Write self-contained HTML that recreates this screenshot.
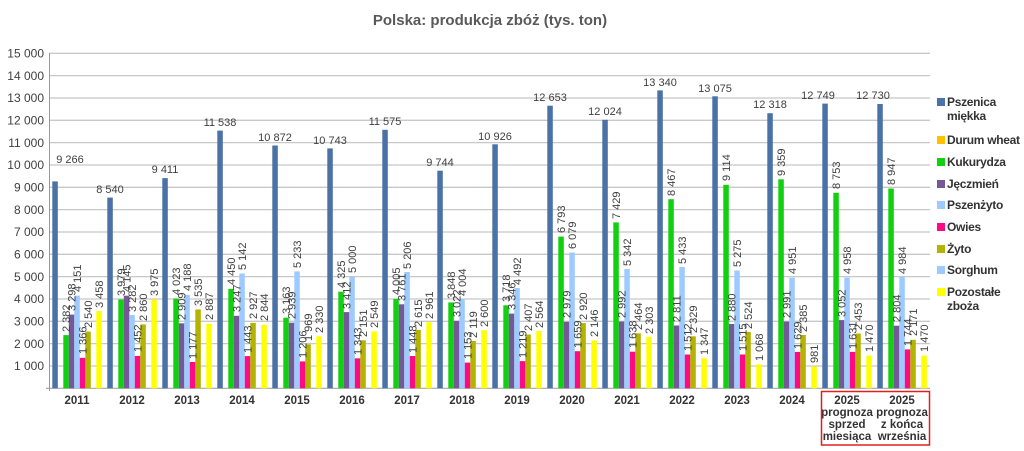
<!DOCTYPE html>
<html><head><meta charset="utf-8"><style>
body{margin:0;background:#fff}
svg{display:block;font-family:"Liberation Sans",sans-serif}
.v{font-size:11px;fill:#404040}
.yl{font-size:12px;fill:#404040;text-anchor:end}
.xl{font-size:11.5px;font-weight:bold;fill:#333;text-anchor:middle}
.lg{font-size:12px;font-weight:bold;fill:#333;letter-spacing:-0.3px}
.b{fill:#4a72a6}.g{fill:#10d010}.p{fill:#745898}.l{fill:#9ecbff}.o{fill:#ff0a84}.z{fill:#b4b400}.y{fill:#ffff00}
</style></head><body>
<svg width="1024" height="451" viewBox="0 0 1024 451">
<text x="490" y="25" text-anchor="middle" font-size="15" font-weight="bold" fill="#595959">Polska: produkcja zbóż (tys. ton)</text>
<g stroke="#c8c8c8" stroke-width="1.3">
<line x1="49.5" x2="930" y1="53.3" y2="53.3"/><line x1="49.5" x2="930" y1="75.6" y2="75.6"/><line x1="49.5" x2="930" y1="98" y2="98"/><line x1="49.5" x2="930" y1="120.3" y2="120.3"/><line x1="49.5" x2="930" y1="142.6" y2="142.6"/><line x1="49.5" x2="930" y1="165" y2="165"/><line x1="49.5" x2="930" y1="187.3" y2="187.3"/><line x1="49.5" x2="930" y1="209.6" y2="209.6"/><line x1="49.5" x2="930" y1="232" y2="232"/><line x1="49.5" x2="930" y1="254.3" y2="254.3"/><line x1="49.5" x2="930" y1="276.6" y2="276.6"/><line x1="49.5" x2="930" y1="299" y2="299"/><line x1="49.5" x2="930" y1="321.3" y2="321.3"/><line x1="49.5" x2="930" y1="343.6" y2="343.6"/><line x1="49.5" x2="930" y1="366" y2="366"/>
</g>
<line x1="49.5" x2="49.5" y1="53" y2="391" stroke="#999"/>
<line x1="46" x2="930" y1="388.3" y2="388.3" stroke="#999"/>
<g class="yl">
<text x="44" y="57.5">15 000</text><text x="44" y="79.8">14 000</text><text x="44" y="102.2">13 000</text><text x="44" y="124.5">12 000</text><text x="44" y="146.8">11 000</text><text x="44" y="169.2">10 000</text><text x="44" y="191.5">9 000</text><text x="44" y="213.8">8 000</text><text x="44" y="236.2">7 000</text><text x="44" y="258.5">6 000</text><text x="44" y="280.8">5 000</text><text x="44" y="303.2">4 000</text><text x="44" y="325.5">3 000</text><text x="44" y="347.8">2 000</text><text x="44" y="370.2">1 000</text>
</g>
<g class="xl">
<text x="77" y="404">2011</text><text x="132" y="404">2012</text><text x="187" y="404">2013</text><text x="242" y="404">2014</text><text x="297" y="404">2015</text><text x="352" y="404">2016</text><text x="407" y="404">2017</text><text x="462" y="404">2018</text><text x="517" y="404">2019</text><text x="572" y="404">2020</text><text x="627" y="404">2021</text><text x="682" y="404">2022</text><text x="737" y="404">2023</text><text x="792" y="404">2024</text>
<text x="847" y="404">2025</text><text x="847" y="416">prognoza</text><text x="847" y="428">sprzed</text><text x="847" y="440">miesiąca</text>
<text x="902" y="404">2025</text><text x="902" y="416">prognoza</text><text x="902" y="428">z końca</text><text x="902" y="440">września</text>
</g>
<rect x="821.5" y="391.5" width="108" height="53.5" fill="none" stroke="#e02020" stroke-width="1.5"/>

<g transform="translate(0,0)">
<rect class="b" x="52.3" y="181.4" width="5.5" height="206.9"/><rect class="g" x="63.3" y="335.1" width="5.5" height="53.2"/><rect class="p" x="68.8" y="314.6" width="5.5" height="73.7"/><rect class="l" x="74.3" y="295.6" width="5.5" height="92.7"/><rect class="o" x="79.8" y="357.8" width="5.5" height="30.5"/><rect class="z" x="85.3" y="331.6" width="5.5" height="56.7"/><rect class="y" x="96.3" y="311.1" width="5.5" height="77.2"/>
<text class="v" x="70" y="163" text-anchor="middle">9 266</text>
<text class="v" transform="translate(70,332) rotate(-90)">2 382</text><text class="v" transform="translate(75.5,311) rotate(-90)">3 298</text><text class="v" transform="translate(81,292) rotate(-90)">4 151</text><text class="v" transform="translate(86.5,354) rotate(-90)">1 366</text><text class="v" transform="translate(92,328) rotate(-90)">2 540</text><text class="v" transform="translate(103,308) rotate(-90)">3 458</text>
</g>
<g transform="translate(55,0)">
<rect class="b" x="52.3" y="197.6" width="5.5" height="190.7"/><rect class="g" x="63.3" y="299.4" width="5.5" height="88.9"/><rect class="p" x="68.8" y="295.7" width="5.5" height="92.6"/><rect class="l" x="74.3" y="315" width="5.5" height="73.3"/><rect class="o" x="79.8" y="355.9" width="5.5" height="32.4"/><rect class="z" x="85.3" y="324.4" width="5.5" height="63.9"/><rect class="y" x="96.3" y="299.5" width="5.5" height="88.8"/>
<text class="v" x="55" y="193" text-anchor="middle">8 540</text>
<text class="v" transform="translate(70,296) rotate(-90)">3 979</text><text class="v" transform="translate(75.5,292) rotate(-90)">4 145</text><text class="v" transform="translate(81,312) rotate(-90)">3 282</text><text class="v" transform="translate(86.5,352) rotate(-90)">1 452</text><text class="v" transform="translate(92,321) rotate(-90)">2 860</text><text class="v" transform="translate(103,296) rotate(-90)">3 975</text>
</g>
<g transform="translate(110,0)">
<rect class="b" x="52.3" y="178.1" width="5.5" height="210.2"/><rect class="g" x="63.3" y="298.5" width="5.5" height="89.8"/><rect class="p" x="68.8" y="323.3" width="5.5" height="65"/><rect class="l" x="74.3" y="294.8" width="5.5" height="93.5"/><rect class="o" x="79.8" y="362" width="5.5" height="26.3"/><rect class="z" x="85.3" y="309.4" width="5.5" height="78.9"/><rect class="y" x="96.3" y="323.8" width="5.5" height="64.5"/>
<text class="v" x="55" y="173" text-anchor="middle">9 411</text>
<text class="v" transform="translate(70,295) rotate(-90)">4 023</text><text class="v" transform="translate(75.5,320) rotate(-90)">2 909</text><text class="v" transform="translate(81,291) rotate(-90)">4 188</text><text class="v" transform="translate(86.5,359) rotate(-90)">1 177</text><text class="v" transform="translate(92,306) rotate(-90)">3 535</text><text class="v" transform="translate(103,320) rotate(-90)">2 887</text>
</g>
<g transform="translate(165,0)">
<rect class="b" x="52.3" y="130.6" width="5.5" height="257.7"/><rect class="g" x="63.3" y="288.9" width="5.5" height="99.4"/><rect class="p" x="68.8" y="315.8" width="5.5" height="72.5"/><rect class="l" x="74.3" y="273.5" width="5.5" height="114.8"/><rect class="o" x="79.8" y="356.1" width="5.5" height="32.2"/><rect class="z" x="85.3" y="322.9" width="5.5" height="65.4"/><rect class="y" x="96.3" y="324.8" width="5.5" height="63.5"/>
<text class="v" x="55" y="126" text-anchor="middle">11 538</text>
<text class="v" transform="translate(70,285) rotate(-90)">4 450</text><text class="v" transform="translate(75.5,312) rotate(-90)">3 247</text><text class="v" transform="translate(81,270) rotate(-90)">5 142</text><text class="v" transform="translate(86.5,353) rotate(-90)">1 443</text><text class="v" transform="translate(92,319) rotate(-90)">2 927</text><text class="v" transform="translate(103,321) rotate(-90)">2 844</text>
</g>
<g transform="translate(220,0)">
<rect class="b" x="52.3" y="145.5" width="5.5" height="242.8"/><rect class="g" x="63.3" y="317.7" width="5.5" height="70.6"/><rect class="p" x="68.8" y="322.7" width="5.5" height="65.6"/><rect class="l" x="74.3" y="271.4" width="5.5" height="116.9"/><rect class="o" x="79.8" y="361.4" width="5.5" height="26.9"/><rect class="z" x="85.3" y="344.3" width="5.5" height="44"/><rect class="y" x="96.3" y="336.3" width="5.5" height="52"/>
<text class="v" x="55" y="141" text-anchor="middle">10 872</text>
<text class="v" transform="translate(70,314) rotate(-90)">3 163</text><text class="v" transform="translate(75.5,319) rotate(-90)">2 939</text><text class="v" transform="translate(81,268) rotate(-90)">5 233</text><text class="v" transform="translate(86.5,358) rotate(-90)">1 206</text><text class="v" transform="translate(92,341) rotate(-90)">1 969</text><text class="v" transform="translate(103,333) rotate(-90)">2 330</text>
</g>
<g transform="translate(275,0)">
<rect class="b" x="52.3" y="148.4" width="5.5" height="239.9"/><rect class="g" x="63.3" y="291.7" width="5.5" height="96.6"/><rect class="p" x="68.8" y="312.1" width="5.5" height="76.2"/><rect class="l" x="74.3" y="276.6" width="5.5" height="111.7"/><rect class="o" x="79.8" y="358.3" width="5.5" height="30"/><rect class="z" x="85.3" y="340.3" width="5.5" height="48"/><rect class="y" x="96.3" y="331.4" width="5.5" height="56.9"/>
<text class="v" x="55" y="144" text-anchor="middle">10 743</text>
<text class="v" transform="translate(70,288) rotate(-90)">4 325</text><text class="v" transform="translate(75.5,309) rotate(-90)">3 412</text><text class="v" transform="translate(81,273) rotate(-90)">5 000</text><text class="v" transform="translate(86.5,355) rotate(-90)">1 343</text><text class="v" transform="translate(92,337) rotate(-90)">2 151</text><text class="v" transform="translate(103,328) rotate(-90)">2 549</text>
</g>
<g transform="translate(330,0)">
<rect class="b" x="52.3" y="129.8" width="5.5" height="258.5"/><rect class="g" x="63.3" y="298.9" width="5.5" height="89.4"/><rect class="p" x="68.8" y="304.3" width="5.5" height="84"/><rect class="l" x="74.3" y="272" width="5.5" height="116.3"/><rect class="o" x="79.8" y="356" width="5.5" height="32.3"/><rect class="z" x="85.3" y="329.9" width="5.5" height="58.4"/><rect class="y" x="96.3" y="322.2" width="5.5" height="66.1"/>
<text class="v" x="55" y="125" text-anchor="middle">11 575</text>
<text class="v" transform="translate(70,295) rotate(-90)">4 005</text><text class="v" transform="translate(75.5,301) rotate(-90)">3 761</text><text class="v" transform="translate(81,269) rotate(-90)">5 206</text><text class="v" transform="translate(86.5,353) rotate(-90)">1 448</text><text class="v" transform="translate(92,327) rotate(-90)">2 615</text><text class="v" transform="translate(103,319) rotate(-90)">2 961</text>
</g>
<g transform="translate(385,0)">
<rect class="b" x="52.3" y="170.7" width="5.5" height="217.6"/><rect class="g" x="63.3" y="302.4" width="5.5" height="85.9"/><rect class="p" x="68.8" y="320.8" width="5.5" height="67.5"/><rect class="l" x="74.3" y="298.9" width="5.5" height="89.4"/><rect class="o" x="79.8" y="362.6" width="5.5" height="25.7"/><rect class="z" x="85.3" y="341" width="5.5" height="47.3"/><rect class="y" x="96.3" y="330.2" width="5.5" height="58.1"/>
<text class="v" x="55" y="166" text-anchor="middle">9 744</text>
<text class="v" transform="translate(70,299) rotate(-90)">3 848</text><text class="v" transform="translate(75.5,317) rotate(-90)">3 022</text><text class="v" transform="translate(81,296) rotate(-90)">4 004</text><text class="v" transform="translate(86.5,359) rotate(-90)">1 153</text><text class="v" transform="translate(92,338) rotate(-90)">2 119</text><text class="v" transform="translate(103,327) rotate(-90)">2 600</text>
</g>
<g transform="translate(440,0)">
<rect class="b" x="52.3" y="144.3" width="5.5" height="244"/><rect class="g" x="63.3" y="305.3" width="5.5" height="83"/><rect class="p" x="68.8" y="313.6" width="5.5" height="74.7"/><rect class="l" x="74.3" y="288" width="5.5" height="100.3"/><rect class="o" x="79.8" y="361.1" width="5.5" height="27.2"/><rect class="z" x="85.3" y="334.5" width="5.5" height="53.8"/><rect class="y" x="96.3" y="331" width="5.5" height="57.3"/>
<text class="v" x="55" y="140" text-anchor="middle">10 926</text>
<text class="v" transform="translate(70,302) rotate(-90)">3 718</text><text class="v" transform="translate(75.5,310) rotate(-90)">3 346</text><text class="v" transform="translate(81,285) rotate(-90)">4 492</text><text class="v" transform="translate(86.5,358) rotate(-90)">1 219</text><text class="v" transform="translate(92,331) rotate(-90)">2 407</text><text class="v" transform="translate(103,328) rotate(-90)">2 564</text>
</g>
<g transform="translate(495,0)">
<rect class="b" x="52.3" y="105.7" width="5.5" height="282.6"/><rect class="g" x="63.3" y="236.6" width="5.5" height="151.7"/><rect class="p" x="68.8" y="321.8" width="5.5" height="66.5"/><rect class="l" x="74.3" y="252.5" width="5.5" height="135.8"/><rect class="o" x="79.8" y="351.2" width="5.5" height="37.1"/><rect class="z" x="85.3" y="323.1" width="5.5" height="65.2"/><rect class="y" x="96.3" y="340.4" width="5.5" height="47.9"/>
<text class="v" x="55" y="101" text-anchor="middle">12 653</text>
<text class="v" transform="translate(70,233) rotate(-90)">6 793</text><text class="v" transform="translate(75.5,318) rotate(-90)">2 979</text><text class="v" transform="translate(81,249) rotate(-90)">6 079</text><text class="v" transform="translate(86.5,348) rotate(-90)">1 659</text><text class="v" transform="translate(92,320) rotate(-90)">2 920</text><text class="v" transform="translate(103,337) rotate(-90)">2 146</text>
</g>
<g transform="translate(550,0)">
<rect class="b" x="52.3" y="119.8" width="5.5" height="268.5"/><rect class="g" x="63.3" y="222.4" width="5.5" height="165.9"/><rect class="p" x="68.8" y="321.5" width="5.5" height="66.8"/><rect class="l" x="74.3" y="269" width="5.5" height="119.3"/><rect class="o" x="79.8" y="351.7" width="5.5" height="36.6"/><rect class="z" x="85.3" y="333.3" width="5.5" height="55"/><rect class="y" x="96.3" y="336.9" width="5.5" height="51.4"/>
<text class="v" x="55" y="115" text-anchor="middle">12 024</text>
<text class="v" transform="translate(70,219) rotate(-90)">7 429</text><text class="v" transform="translate(75.5,318) rotate(-90)">2 992</text><text class="v" transform="translate(81,266) rotate(-90)">5 342</text><text class="v" transform="translate(86.5,348) rotate(-90)">1 638</text><text class="v" transform="translate(92,330) rotate(-90)">2 464</text><text class="v" transform="translate(103,334) rotate(-90)">2 303</text>
</g>
<g transform="translate(605,0)">
<rect class="b" x="52.3" y="90.4" width="5.5" height="297.9"/><rect class="g" x="63.3" y="199.2" width="5.5" height="189.1"/><rect class="p" x="68.8" y="325.5" width="5.5" height="62.8"/><rect class="l" x="74.3" y="267" width="5.5" height="121.3"/><rect class="o" x="79.8" y="354.5" width="5.5" height="33.8"/><rect class="z" x="85.3" y="336.3" width="5.5" height="52"/><rect class="y" x="96.3" y="358.2" width="5.5" height="30.1"/>
<text class="v" x="55" y="86" text-anchor="middle">13 340</text>
<text class="v" transform="translate(70,196) rotate(-90)">8 467</text><text class="v" transform="translate(75.5,322) rotate(-90)">2 811</text><text class="v" transform="translate(81,264) rotate(-90)">5 433</text><text class="v" transform="translate(86.5,351) rotate(-90)">1 512</text><text class="v" transform="translate(92,333) rotate(-90)">2 329</text><text class="v" transform="translate(103,355) rotate(-90)">1 347</text>
</g>
<g transform="translate(660,0)">
<rect class="b" x="52.3" y="96.3" width="5.5" height="292"/><rect class="g" x="63.3" y="184.8" width="5.5" height="203.5"/><rect class="p" x="68.8" y="324" width="5.5" height="64.3"/><rect class="l" x="74.3" y="270.5" width="5.5" height="117.8"/><rect class="o" x="79.8" y="354.5" width="5.5" height="33.8"/><rect class="z" x="85.3" y="331.9" width="5.5" height="56.4"/><rect class="y" x="96.3" y="364.4" width="5.5" height="23.9"/>
<text class="v" x="55" y="92" text-anchor="middle">13 075</text>
<text class="v" transform="translate(70,181) rotate(-90)">9 114</text><text class="v" transform="translate(75.5,321) rotate(-90)">2 880</text><text class="v" transform="translate(81,267) rotate(-90)">5 275</text><text class="v" transform="translate(86.5,351) rotate(-90)">1 515</text><text class="v" transform="translate(92,329) rotate(-90)">2 524</text><text class="v" transform="translate(103,361) rotate(-90)">1 068</text>
</g>
<g transform="translate(715,0)">
<rect class="b" x="52.3" y="113.2" width="5.5" height="275.1"/><rect class="g" x="63.3" y="179.3" width="5.5" height="209"/><rect class="p" x="68.8" y="321.5" width="5.5" height="66.8"/><rect class="l" x="74.3" y="277.7" width="5.5" height="110.6"/><rect class="o" x="79.8" y="351.9" width="5.5" height="36.4"/><rect class="z" x="85.3" y="335" width="5.5" height="53.3"/><rect class="y" x="96.3" y="366.4" width="5.5" height="21.9"/>
<text class="v" x="55" y="108" text-anchor="middle">12 318</text>
<text class="v" transform="translate(70,176) rotate(-90)">9 359</text><text class="v" transform="translate(75.5,318) rotate(-90)">2 991</text><text class="v" transform="translate(81,274) rotate(-90)">4 951</text><text class="v" transform="translate(86.5,349) rotate(-90)">1 629</text><text class="v" transform="translate(92,332) rotate(-90)">2 385</text><text class="v" transform="translate(103,363) rotate(-90)">981</text>
</g>
<g transform="translate(770,0)">
<rect class="b" x="52.3" y="103.6" width="5.5" height="284.7"/><rect class="g" x="63.3" y="192.8" width="5.5" height="195.5"/><rect class="p" x="68.8" y="320.1" width="5.5" height="68.2"/><rect class="l" x="74.3" y="277.6" width="5.5" height="110.7"/><rect class="o" x="79.8" y="351.9" width="5.5" height="36.4"/><rect class="z" x="85.3" y="333.5" width="5.5" height="54.8"/><rect class="y" x="96.3" y="355.5" width="5.5" height="32.8"/>
<text class="v" x="48" y="99" text-anchor="middle">12 749</text>
<text class="v" transform="translate(70,189) rotate(-90)">8 753</text><text class="v" transform="translate(75.5,317) rotate(-90)">3 052</text><text class="v" transform="translate(81,274) rotate(-90)">4 958</text><text class="v" transform="translate(86.5,349) rotate(-90)">1 631</text><text class="v" transform="translate(92,330) rotate(-90)">2 453</text><text class="v" transform="translate(103,352) rotate(-90)">1 470</text>
</g>
<g transform="translate(825,0)">
<rect class="b" x="52.3" y="104" width="5.5" height="284.3"/><rect class="g" x="63.3" y="188.5" width="5.5" height="199.8"/><rect class="p" x="68.8" y="325.7" width="5.5" height="62.6"/><rect class="l" x="74.3" y="277" width="5.5" height="111.3"/><rect class="o" x="79.8" y="349.4" width="5.5" height="38.9"/><rect class="z" x="85.3" y="339.8" width="5.5" height="48.5"/><rect class="y" x="96.3" y="355.5" width="5.5" height="32.8"/>
<text class="v" x="48" y="99" text-anchor="middle">12 730</text>
<text class="v" transform="translate(70,185) rotate(-90)">8 947</text><text class="v" transform="translate(75.5,322) rotate(-90)">2 804</text><text class="v" transform="translate(81,274) rotate(-90)">4 984</text><text class="v" transform="translate(86.5,346) rotate(-90)">1 744</text><text class="v" transform="translate(92,336) rotate(-90)">2 171</text><text class="v" transform="translate(103,352) rotate(-90)">1 470</text>
</g>

<g class="lg">
<rect class="b" x="937" y="98" width="8" height="8"/><text x="947" y="106">Pszenica</text><text x="947" y="120">miękka</text>
<rect x="937" y="136" width="8" height="8" fill="#ffc000"/><text x="947" y="144">Durum wheat</text>
<rect class="g" x="937" y="158" width="8" height="8"/><text x="947" y="166">Kukurydza</text>
<rect class="p" x="937" y="180" width="8" height="8"/><text x="947" y="188">Jęczmień</text>
<rect class="l" x="937" y="201" width="8" height="8"/><text x="947" y="209">Pszenżyto</text>
<rect class="o" x="937" y="223" width="8" height="8"/><text x="947" y="231">Owies</text>
<rect class="z" x="937" y="245" width="8" height="8"/><text x="947" y="253">Żyto</text>
<rect class="l" x="937" y="266" width="8" height="8"/><text x="947" y="274">Sorghum</text>
<rect class="y" x="937" y="288" width="8" height="8"/><text x="947" y="296">Pozostałe</text><text x="947" y="310">zboża</text>
</g>
</svg>
</body></html>
